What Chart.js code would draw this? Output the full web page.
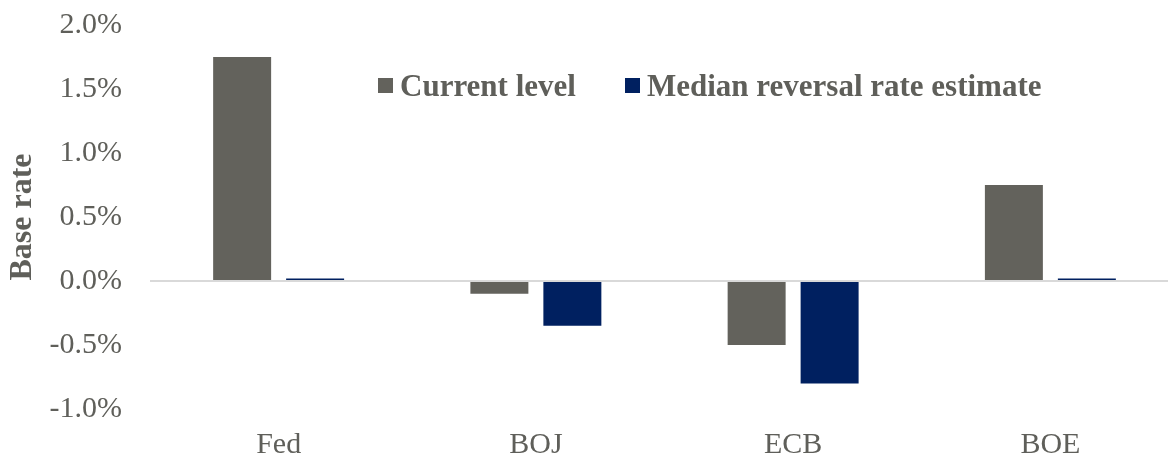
<!DOCTYPE html>
<html>
<head>
<meta charset="utf-8">
<script src="https://cdn.jsdelivr.net/npm/chart.js@4.4.1/dist/chart.umd.min.js"></script>
<style>
  html, body { margin: 0; padding: 0; background: #fff; overflow: hidden; }
  #wrap { position: relative; width: 1180px; height: 459px; }
  #legend { position: absolute; top: 0; left: 0; font-family: "Liberation Serif", "Times New Roman", serif; font-weight: bold; font-size: 31px; color: #5f5f5a; }
  .item { position: absolute; top: 68px; white-space: nowrap; line-height: 36px; }
  .box { position: absolute; top: 10px; width: 15px; height: 15px; }
  .lbl { position: absolute; left: 22px; top: 0; }
</style>
</head>
<body>
<div id="wrap">
  <canvas id="c" width="1180" height="459"></canvas>
  <div id="legend"></div>
</div>
<script>
const categories = ["Fed", "BOJ", "ECB", "BOE"];
const currentLevel = [1.75, -0.10, -0.50, 0.75];
const medianReversal = [0.02, -0.35, -0.80, 0.02];
const seriesNames = ["Current level", "Median reversal rate estimate"];
const seriesColors = ["#63625C", "#002060"];
const yTicks = [-1.0, -0.5, 0.0, 0.5, 1.0, 1.5, 2.0];
const legendX = [378, 625];

const textColor = "#5f5f5a";
const fontFamily = '"Liberation Serif", "Times New Roman", serif';

new Chart(document.getElementById("c"), {
  type: "bar",
  data: {
    labels: categories,
    datasets: [
      { label: seriesNames[0], data: currentLevel, backgroundColor: seriesColors[0] },
      { label: seriesNames[1], data: medianReversal, backgroundColor: seriesColors[1] }
    ]
  },
  options: {
    responsive: false,
    animation: false,
    layout: { padding: { top: 25, right: 1, bottom: 0, left: 0 } },
    datasets: { bar: { categoryPercentage: 0.5674, barPercentage: 0.7945 } },
    plugins: { legend: { display: false }, tooltip: { enabled: false } },
    scales: {
      x: {
        grid: { display: false },
        border: { display: false },
        ticks: { color: textColor, font: { family: fontFamily, size: 30 }, padding: 10, maxRotation: 0 },
        afterFit: s => { s.height = 50; s.paddingLeft = 0; s.paddingRight = 0; }
      },
      y: {
        min: yTicks[0],
        max: yTicks[yTicks.length - 1],
        afterBuildTicks: s => { s.ticks = yTicks.map(v => ({ value: v })); },
        ticks: {
          color: textColor,
          font: { family: fontFamily, size: 30 },
          padding: 28,
          callback: v => Number(v).toFixed(1) + "%"
        },
        grid: {
          drawTicks: false,
          lineWidth: 2,
          color: c => (c.tick && c.tick.value === 0 ? "#D9D9D9" : "rgba(0,0,0,0)")
        },
        border: { display: false },
        title: {
          display: true,
          text: "Base rate",
          color: textColor,
          font: { family: fontFamily, size: 32, weight: "bold" },
          padding: { top: 4, bottom: 0 }
        },
        afterFit: s => { s.width = 150; s.paddingTop = 0; s.paddingBottom = 0; }
      }
    }
  }
});

const leg = document.getElementById("legend");
seriesNames.forEach((name, i) => {
  const it = document.createElement("div");
  it.className = "item";
  it.style.left = legendX[i] + "px";
  const b = document.createElement("div");
  b.className = "box";
  b.style.background = seriesColors[i];
  const t = document.createElement("div");
  t.className = "lbl";
  t.textContent = name;
  it.appendChild(b);
  it.appendChild(t);
  leg.appendChild(it);
});
</script>
</body>
</html>
